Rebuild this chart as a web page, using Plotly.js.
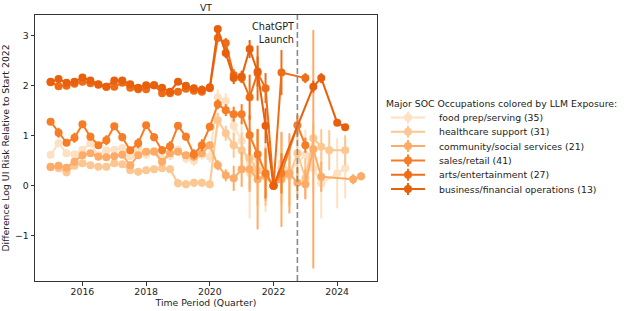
<!DOCTYPE html>
<html>
<head>
<meta charset="utf-8">
<script src="https://cdn.plot.ly/plotly-3.0.1.min.js"></script>
<style>html,body{margin:0;padding:0;background:#fff;}#chart{width:634px;height:311px;}</style>
</head>
<body>
<div id="chart"></div>
<script>
// ---- data ----
const quarters = [2015, 2015.25, 2015.5, 2015.75, 2016, 2016.25, 2016.5, 2016.75, 2017, 2017.25, 2017.5, 2017.75,
  2018, 2018.25, 2018.5, 2018.75, 2019, 2019.25, 2019.5, 2019.75, 2020, 2020.25, 2020.5, 2020.75,
  2021, 2021.25, 2021.5, 2021.75, 2022, 2022.25, 2022.5, 2022.75, 2023, 2023.25, 2023.5, 2023.75,
  2024, 2024.25, 2024.5, 2024.75];

const seriesNames = ["food prep/serving (35)", "healthcare support (31)", "community/social services (21)",
  "sales/retail (41)", "arts/entertainment (27)", "business/financial operations (13)"];

const foodPrep = [0.62, 0.85, 0.65, 0.63, 0.72, 0.85, 0.61, 0.71, 0.72, 0.75, 0.59, 0.75,
  0.62, 0.70, 0.55, 0.60, 0.72, 0.55, 0.50, 0.62, 0.58, 1.77, 1.70, 1.20,
  0.90, 0.25, 0.55, 0.18, 0.00, 0.45, 0.30, null, 0.62, 0.35, 0.05, null,
  0.25, 0.35, null, null];
const foodPrepErr = [0.06, 0.08, 0.07, 0.06, 0.07, 0.08, 0.06, 0.07, 0.07, 0.08, 0.07, 0.08,
  0.07, 0.08, 0.08, 0.08, 0.08, 0.10, 0.10, 0.10, 0.12, 0.15, 0.15, 0.30,
  0.40, 0.90, 0.60, 0.70, 0.00, 0.60, 0.70, 0, 0.50, 0.50, 0.70, 0,
  0.70, 0.60, 0, 0];

const healthcare = [0.37, 0.35, 0.27, 0.40, 0.45, 0.41, 0.38, 0.38, 0.45, 0.43, 0.31, 0.28,
  0.31, 0.33, 0.35, 0.33, 0.05, 0.03, 0.06, 0.06, 0.03, 1.31, 1.05, 0.81,
  0.71, 0.55, 0.30, 0.20, 0.00, 0.35, 0.20, 0.65, 0.15, 0.95, 0.78, 0.71,
  null, 0.71, null, null];
const healthcareErr = [0.06, 0.07, 0.08, 0.06, 0.07, 0.06, 0.06, 0.07, 0.06, 0.07, 0.07, 0.07,
  0.07, 0.07, 0.07, 0.07, 0.08, 0.08, 0.08, 0.08, 0.08, 0.15, 0.15, 0.25,
  0.35, 0.60, 0.70, 0.60, 0.00, 0.70, 0.60, 0.50, 0.40, 0.30, 0.35, 0.40,
  0, 0.30, 0, 0];

const community = [0.38, 0.40, 0.36, 0.48, 0.61, 0.65, 0.58, 0.57, 0.59, 0.62, 0.41, 0.61,
  0.68, 0.68, 0.48, 0.65, 0.68, 0.61, 0.58, 0.65, 0.81, 0.41, 0.21, 0.15,
  0.33, 0.33, 0.13, 0.20, 0.00, 0.13, 0.25, 0.06, 0.03, 0.73, 0.18, null,
  null, null, 0.13, 0.19];
const communityErr = [0.05, 0.06, 0.06, 0.06, 0.06, 0.06, 0.06, 0.06, 0.06, 0.06, 0.07, 0.06,
  0.06, 0.06, 0.07, 0.06, 0.06, 0.07, 0.07, 0.07, 0.08, 0.10, 0.12, 0.25,
  0.35, 0.45, 1.00, 0.50, 0.00, 0.95, 0.80, 0.30, 0.30, 2.38, 0.30, 0,
  0, 0, 0.10, 0.08];

const sales = [1.28, 1.06, 0.86, 0.96, 1.23, 0.98, 0.81, 0.91, 1.19, 0.97, 0.71, 0.85,
  1.21, 0.97, 0.71, 0.79, 1.20, 0.98, 0.63, 0.81, 1.18, 1.63, 1.51, 1.43,
  1.43, 1.01, 0.63, 0.25, 0.00, 0.25, null, 1.21, 0.81, null, null, null,
  null, null, null, null];
const salesErr = [0.05, 0.10, 0.06, 0.10, 0.06, 0.08, 0.06, 0.10, 0.06, 0.08, 0.07, 0.10,
  0.06, 0.08, 0.08, 0.10, 0.06, 0.08, 0.10, 0.12, 0.08, 0.10, 0.12, 0.15,
  0.20, 0.40, 0.50, 0.50, 0.00, 0.40, 0, 0.20, 0.15, 0, 0, 0,
  0, 0, 0, 0];

const arts = [2.07, 1.99, 2.00, 2.04, 2.08, 2.05, 2.02, 1.98, 1.98, 2.06, 1.96, 1.93,
  1.93, 2.01, 1.85, 1.85, 1.88, 1.94, 1.90, 1.88, 1.95, 2.95, 2.85, 2.21,
  2.15, 1.77, 2.25, 1.95, 0.00, 2.26, null, null, 2.15, null, null, null,
  null, null, null, null];
const artsErr = [0.04, 0.05, 0.04, 0.04, 0.04, 0.04, 0.05, 0.04, 0.05, 0.04, 0.04, 0.05,
  0.04, 0.05, 0.05, 0.05, 0.06, 0.06, 0.06, 0.07, 0.07, 0.06, 0.10, 0.12,
  0.10, 0.45, 0.55, 0.30, 0.00, 0.45, 0, 0, 0.10, 0, 0, 0,
  0, 0, 0, 0];

const business = [2.08, 2.13, 2.06, 2.08, 2.16, 2.10, 2.03, 1.98, 2.10, 2.10, 2.03, 1.96,
  2.01, 2.01, 1.96, 1.88, 2.08, 2.00, 1.95, 1.92, 1.97, 3.13, 2.65, 2.15,
  2.18, 2.73, 2.28, 1.20, 0.00, null, null, null, null, 1.98, 2.15, null,
  1.26, 1.17, null, null];
const businessErr = [0.04, 0.04, 0.04, 0.04, 0.05, 0.04, 0.04, 0.04, 0.05, 0.04, 0.04, 0.04,
  0.05, 0.05, 0.05, 0.05, 0.05, 0.05, 0.07, 0.08, 0.06, 0.05, 0.10, 0.12,
  0.12, 0.18, 0.30, 0.35, 0.00, 0, 0, 0, 0, 0.12, 0.10, 0,
  0.06, 0.05, 0, 0];

const xTicks = [2016, 2018, 2020, 2022, 2024];
const yTicks = [-1, 0, 1, 2, 3];
const yTickText = ["\u22121", "0", "1", "2", "3"];
const chatgptLaunch = 2022.75;

// ---- styling ----
const colors = ["#fee0c3", "#fdc792", "#fdab66", "#f67c26", "#f06d18", "#e8600e"];
const allValues = [foodPrep, healthcare, community, sales, arts, business];
const allErrors = [foodPrepErr, healthcareErr, communityErr, salesErr, artsErr, businessErr];
const FONT = "DejaVu Sans, Verdana, sans-serif";
const FS = 9.3;

const traces = allValues.map((vals, i) => ({
  type: "scatter",
  mode: "lines+markers",
  x: quarters,
  y: vals,
  name: seriesNames[i],
  connectgaps: true,
  line: {color: colors[i], width: 2},
  marker: {color: colors[i], size: 8},
  error_y: {type: "data", array: allErrors[i], visible: true, color: colors[i], thickness: 2, width: 0},
  showlegend: false
}));

// plot area geometry (pixels) for custom legend placement
const L = 35, R = 377, T = 15, B = 281;
const px = p => (p - L) / (R - L);
const py = p => (B - p) / (B - T);

const shapes = [{
  type: "line", xref: "x", yref: "paper", x0: chatgptLaunch, x1: chatgptLaunch, y0: 0, y1: 1,
  line: {color: "#8a8a8a", width: 1.6, dash: "6px,3px"}
}];
const annotations = [{
  xref: "x", yref: "paper", x: chatgptLaunch, y: py(33), xanchor: "right", yanchor: "middle",
  xshift: -1, text: "ChatGPT<br>Launch", align: "right", showarrow: false,
  font: {family: FONT, size: FS + 0.4, color: "#222"}
}, {
  xref: "paper", yref: "paper", x: px(384), y: py(103), xanchor: "left", yanchor: "middle",
  text: "Major SOC Occupations colored by LLM Exposure:", showarrow: false,
  font: {family: FONT, size: FS, color: "#222"}
}];
seriesNames.forEach((nm, i) => {
  const yy = 117.5 + i * 14.3;
  shapes.push({type: "line", xref: "paper", yref: "paper", x0: px(391), x1: px(425), y0: py(yy), y1: py(yy),
    line: {color: colors[i], width: 2}});
  shapes.push({type: "line", xref: "paper", yref: "paper", x0: px(408), x1: px(408), y0: py(yy - 6), y1: py(yy + 6),
    line: {color: colors[i], width: 2}});
  shapes.push({type: "circle", xref: "paper", yref: "paper", xsizemode: "pixel", ysizemode: "pixel",
    xanchor: px(408), yanchor: py(yy), x0: -4, x1: 4, y0: -4, y1: 4,
    fillcolor: colors[i], line: {color: colors[i], width: 0}});
  annotations.push({xref: "paper", yref: "paper", x: px(437), y: py(yy), xanchor: "left", yanchor: "middle",
    text: nm, showarrow: false, font: {family: FONT, size: FS, color: "#222"}});
});

const layout = {
  width: 634, height: 311,
  margin: {l: L, r: 634 - R, t: T, b: 311 - B, pad: 0},
  paper_bgcolor: "#fff", plot_bgcolor: "#fff",
  font: {family: FONT, size: FS, color: "#222"},
  title: {text: "VT", font: {family: FONT, size: FS, color: "#222"}, xref: "paper", x: 0.5, xanchor: "center",
    yref: "container", y: 1 - 8 / 311, yanchor: "middle"},
  xaxis: {range: [2014.51, 2025.25], tickvals: xTicks, ticktext: xTicks.map(String), ticks: "outside", ticklen: 3.5,
    tickwidth: 1, tickcolor: "#333", showline: true, mirror: true, linecolor: "#333", linewidth: 1,
    showgrid: false, zeroline: false, tickfont: {family: FONT, size: FS, color: "#222"}, ticklabelstandoff: -2,
    title: {text: "Time Period (Quarter)", font: {family: FONT, size: FS, color: "#222"}, standoff: 0}},
  yaxis: {range: [-1.9, 3.41], tickvals: yTicks, ticktext: yTickText, ticks: "outside", ticklen: 3.5,
    tickwidth: 1, tickcolor: "#333", showline: true, mirror: true, linecolor: "#333", linewidth: 1,
    showgrid: false, zeroline: false, tickfont: {family: FONT, size: FS, color: "#222"},
    title: {text: "Difference Log UI Risk Relative to Start 2022", font: {family: FONT, size: FS, color: "#222"}, standoff: 3}},
  shapes: shapes,
  annotations: annotations,
  showlegend: false
};

Plotly.newPlot("chart", traces, layout, {displayModeBar: false, staticPlot: true});
</script>
</body>
</html>
